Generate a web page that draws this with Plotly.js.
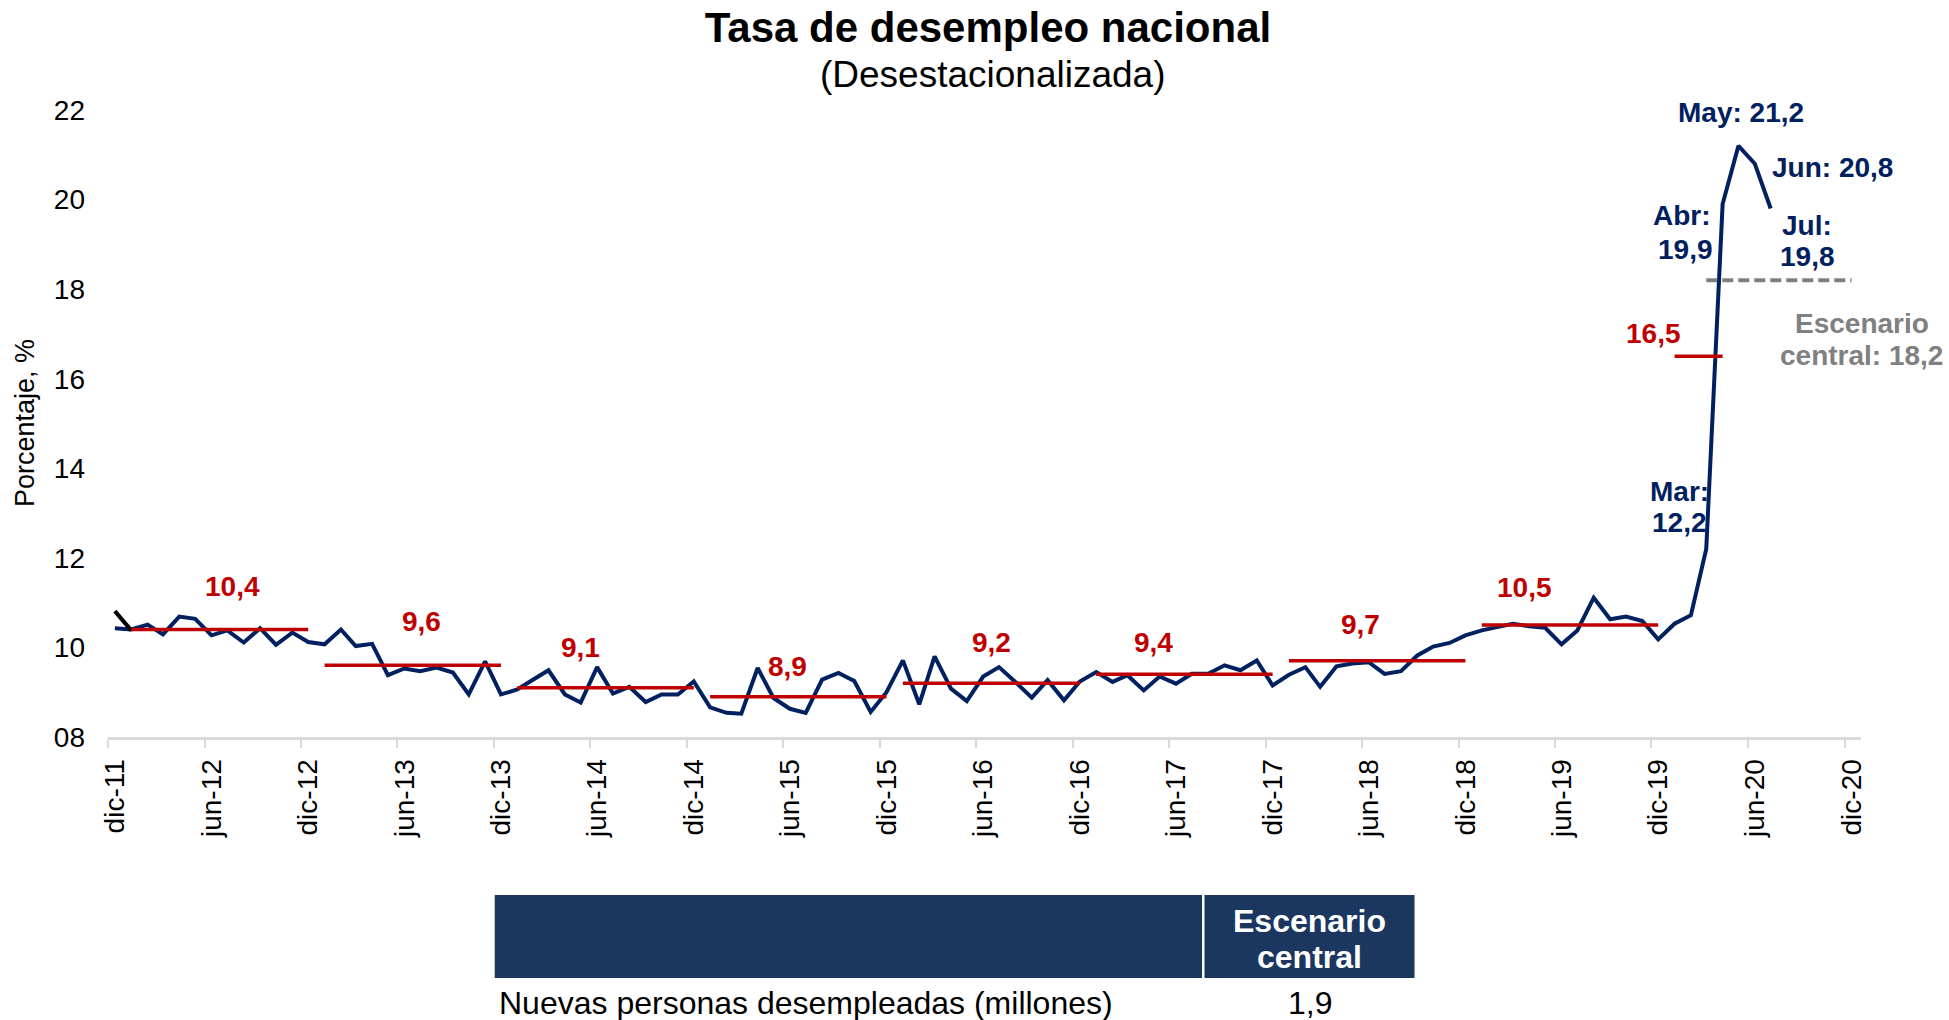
<!DOCTYPE html>
<html>
<head>
<meta charset="utf-8">
<script src="https://cdn.plot.ly/plotly-3.0.1.min.js"></script>
<style>html,body{margin:0;padding:0;background:#fff}#chart{width:1949px;height:1020px}</style>
</head>
<body>
<div id="chart"></div>
<script>
// ---------- DATA ----------
// Monthly seasonally-adjusted unemployment rate, dic-11 .. jul-20
const firstMonth = {year: 2011, month: 12};
const rate = [
  10.43,
  10.40, 10.51, 10.29, 10.69, 10.64, 10.27, 10.38, 10.11, 10.43, 10.06, 10.33, 10.12,
  10.07, 10.40, 10.03, 10.08, 9.38, 9.53, 9.47, 9.55, 9.44, 8.95, 9.69, 8.95,
  9.06, 9.29, 9.49, 8.95, 8.77, 9.56, 8.97, 9.12, 8.78, 8.95, 8.95, 9.24,
  8.66, 8.54, 8.52, 9.54, 8.87, 8.63, 8.54, 9.28, 9.43, 9.25, 8.56, 9.00,
  9.71, 8.73, 9.80, 9.08, 8.80, 9.35, 9.56, 9.23, 8.88, 9.27, 8.82, 9.24,
  9.45, 9.23, 9.38, 9.04, 9.35, 9.19, 9.41, 9.41, 9.60, 9.49, 9.71, 9.15,
  9.39, 9.56, 9.12, 9.58, 9.64, 9.67, 9.41, 9.47, 9.82, 10.02, 10.10, 10.27,
  10.38, 10.46, 10.53, 10.47, 10.44, 10.07, 10.38, 11.11, 10.63, 10.69, 10.59, 10.18,
  10.53, 10.72, 12.2, 19.9, 21.2, 20.8, 19.8
];
// short black segment at the start
const blackSegment = [10.81, 10.38];
// yearly averages (red lines)
const avgYears      = [2012, 2013, 2014, 2015, 2016, 2017, 2018, 2019, 2020];
const avgValues     = [10.4, 9.6, 9.1, 8.9, 9.2, 9.4, 9.7, 10.5, 16.5];
const avgFromMonth  = [1, 1, 1, 1, 1, 1, 1, 1, 1];
const avgToMonth    = [12, 12, 12, 12, 12, 12, 12, 12, 4];
// central scenario
const scenarioValue = 18.2;
const scenarioFrom  = {year: 2020, month: 3};
const scenarioTo    = {year: 2020, month: 12};
// point labels
const pointLabelMonths = ['Mar', 'Abr', 'May', 'Jun', 'Jul'];
const pointLabelIndex  = [99, 100, 101, 102, 103];
// axis tick labels
const tickLabels = ['dic-11','jun-12','dic-12','jun-13','dic-13','jun-14','dic-14','jun-15','dic-15',
  'jun-16','dic-16','jun-17','dic-17','jun-18','dic-18','jun-19','dic-19','jun-20','dic-20'];
const yTickValues = [8, 10, 12, 14, 16, 18, 20, 22];
const yTickLabels = ['08', '10', '12', '14', '16', '18', '20', '22'];
// table
const tableHeader = ['', 'Escenario', 'central'];
const tableRowLabel = 'Nuevas personas desempleadas (millones)';
const tableRowValue = '1,9';

// ---------- HELPERS ----------
const pad = n => String(n).padStart(2, '0');
const DAY = 86400000;
const monthIdx = {ene:1,feb:2,mar:3,abr:4,may:5,jun:6,jul:7,ago:8,sep:9,oct:10,nov:11,dic:12};
function ym(i) { // month index -> {year, month}
  const t = firstMonth.month - 1 + i;
  return {year: firstMonth.year + Math.floor(t / 12), month: (t % 12) + 1};
}
function pointDate(y, m) { return `${y}-${pad(m)}-14`; }
function idxDate(i) {
  const base = Math.floor(i), f = i - base, d = ym(base);
  const ms = Date.UTC(d.year, d.month - 1, 14) + f * 30.44 * DAY;
  return new Date(ms).toISOString().replace('T', ' ').slice(0, 19);
}
const fmt = v => v.toFixed(1).replace('.', ',');

const FONT = 'Liberation Sans, Arial, sans-serif';
const NAVY = '#002060', RED = '#c00000', GRAY = '#808080', AXIS = '#d9d9d9';

// pixel geometry of the plot area (style)
const L = 108, R = 88, T = 110, B = 283, W = 1949, H = 1020;
const PW = W - L - R, PH = H - T - B;
const X = px => (px - L) / PW;
const Y = py => (H - B - py) / PH;

// ---------- TRACES ----------
const xDates = rate.map((_, i) => { const d = ym(i); return pointDate(d.year, d.month); });
const traces = [];
traces.push({x: xDates, y: rate, type: 'scatter', mode: 'lines',
  line: {color: NAVY, width: 4}, hoverinfo: 'x+y', showlegend: false});
traces.push({x: xDates.slice(0, 2), y: blackSegment, type: 'scatter', mode: 'lines',
  line: {color: '#000', width: 4}, showlegend: false});
avgYears.forEach((yr, k) => {
  traces.push({x: [pointDate(yr, avgFromMonth[k]), pointDate(yr, avgToMonth[k])],
    y: [avgValues[k], avgValues[k]], type: 'scatter', mode: 'lines',
    line: {color: RED, width: 3.5}, showlegend: false});
});
traces.push({x: [pointDate(scenarioFrom.year, scenarioFrom.month), pointDate(scenarioTo.year, scenarioTo.month)],
  y: [scenarioValue, scenarioValue], type: 'scatter', mode: 'lines',
  line: {color: GRAY, width: 4, dash: '11px,5px'}, showlegend: false});

// ---------- ANNOTATIONS ----------
const ann = [];
// red average labels (positions: [month index, y])
const avgLabelPos = [[7.3,11.35],[19.1,10.57],[29.0,10.0],[41.9,9.58],[54.5,10.12],[64.6,10.12],[77.5,10.52],[87.7,11.33],[95.7,17.01]];
avgValues.forEach((v, k) => ann.push({x: idxDate(avgLabelPos[k][0]), y: avgLabelPos[k][1], xref: 'x', yref: 'y',
  text: `<b>${fmt(v)}</b>`, showarrow: false, xanchor: 'center', yanchor: 'middle',
  font: {family: FONT, size: 28, color: RED}}));
// navy point labels
const pl = (k) => `${pointLabelMonths[k]}:`;
const pv = (k) => fmt(rate[pointLabelIndex[k]]);
const navyLabels = [
  [pl(2) + ' ' + pv(2), 101.16, 21.95],
  [pl(3) + ' ' + pv(3), 106.84, 20.71],
  [pl(1), 97.45, 19.64], [pv(1), 97.7, 18.89],
  [pl(4), 105.2, 19.43], [pv(4), 105.24, 18.74],
  [pl(0), 97.28, 13.48], [pv(0), 97.28, 12.79]
];
navyLabels.forEach(([t, xi, yv]) => ann.push({x: idxDate(xi), y: yv, xref: 'x', yref: 'y',
  text: `<b>${t}</b>`, showarrow: false, xanchor: 'center', yanchor: 'middle',
  font: {family: FONT, size: 28, color: NAVY}}));
// scenario label (to the right of the axis range, so in paper x)
[['Escenario', 17.23], ['central: ' + fmt(scenarioValue), 16.52]].forEach(([t, yv]) =>
  ann.push({x: X(1861.7), y: yv, xref: 'paper', yref: 'y', text: `<b>${t}</b>`, showarrow: false,
    xanchor: 'center', yanchor: 'middle', font: {family: FONT, size: 28, color: GRAY}}));
// subtitle
ann.push({x: X(993), y: Y(74.6), xref: 'paper', yref: 'paper', text: '(Desestacionalizada)', showarrow: false,
  xanchor: 'center', yanchor: 'middle', font: {family: FONT, size: 37, color: '#000'}});
// y axis title
ann.push({x: X(25), y: Y(423), xref: 'paper', yref: 'paper', text: 'Porcentaje, %', textangle: -90, showarrow: false,
  xanchor: 'center', yanchor: 'middle', font: {family: FONT, size: 27, color: '#000'}});
// table texts
ann.push({x: X(1309.5), y: Y(921), xref: 'paper', yref: 'paper', text: `<b>${tableHeader[1]}</b>`, showarrow: false,
  xanchor: 'center', yanchor: 'middle', font: {family: FONT, size: 32, color: '#fff'}});
ann.push({x: X(1309.5), y: Y(957), xref: 'paper', yref: 'paper', text: `<b>${tableHeader[2]}</b>`, showarrow: false,
  xanchor: 'center', yanchor: 'middle', font: {family: FONT, size: 32, color: '#fff'}});
ann.push({x: X(497), y: Y(1003), xref: 'paper', yref: 'paper', text: tableRowLabel, showarrow: false,
  xanchor: 'left', yanchor: 'middle', font: {family: FONT, size: 32, color: '#000'}});
ann.push({x: X(1309.5), y: Y(1003), xref: 'paper', yref: 'paper', text: tableRowValue, showarrow: false,
  xanchor: 'center', yanchor: 'middle', font: {family: FONT, size: 32, color: '#000'}});

const shapes = [
  {type: 'rect', xref: 'paper', yref: 'paper', x0: X(494.7), x1: X(1202), y0: Y(895), y1: Y(978),
    fillcolor: '#1b375f', line: {width: 0}, layer: 'above'},
  {type: 'rect', xref: 'paper', yref: 'paper', x0: X(1204.5), x1: X(1414.5), y0: Y(895), y1: Y(978),
    fillcolor: '#1b375f', line: {width: 0}, layer: 'above'}
];

// ---------- LAYOUT ----------
const tickVals = tickLabels.map(s => { const [m, y] = s.split('-'); return `20${y}-${pad(monthIdx[m])}-01`; });
const layout = {
  width: W, height: H,
  margin: {l: L, r: R, t: T, b: B, pad: 0},
  paper_bgcolor: '#fff', plot_bgcolor: '#fff',
  font: {family: FONT, color: '#000'},
  title: {text: '<b>Tasa de desempleo nacional</b>', font: {family: FONT, size: 42, color: '#000'},
    x: 988 / W, xref: 'container', xanchor: 'center', y: 1 - 27 / H, yref: 'container', yanchor: 'middle'},
  xaxis: {type: 'date', range: ['2011-12-01', '2021-01-01'], tickmode: 'array', tickvals: tickVals, ticktext: tickLabels,
    tickangle: -90, tickfont: {family: FONT, size: 28, color: '#000'},
    ticks: 'outside', ticklen: 8, tickwidth: 2, tickcolor: AXIS, ticklabelshift: 7, ticklabelstandoff: 0,
    showline: true, linecolor: AXIS, linewidth: 3, showgrid: false, zeroline: false, fixedrange: true},
  yaxis: {range: [8, 22], tickmode: 'array', tickvals: yTickValues, ticktext: yTickLabels,
    tickfont: {family: FONT, size: 28, color: '#000'}, ticks: '', ticklabelstandoff: 22,
    showline: false, showgrid: false, zeroline: false, fixedrange: true},
  annotations: ann,
  shapes: shapes,
  showlegend: false
};
Plotly.newPlot('chart', traces, layout, {displayModeBar: false, staticPlot: true});
</script>
</body>
</html>
